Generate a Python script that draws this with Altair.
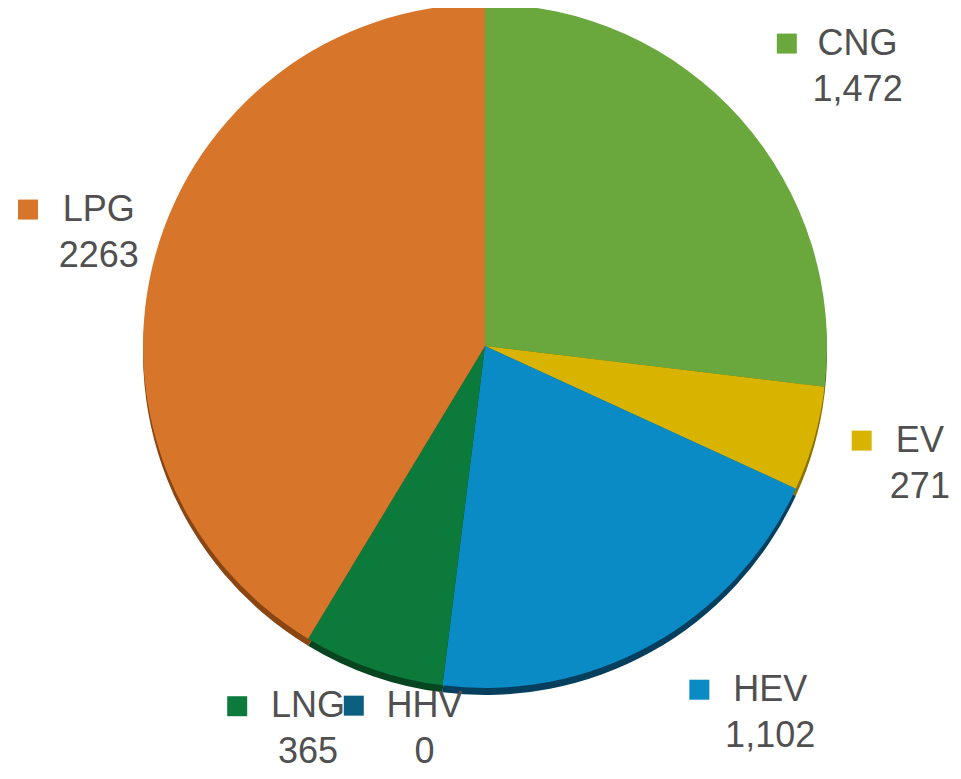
import altair as alt
import pandas as pd

# ---- data ----
categories = ["CNG", "EV", "HEV", "HHV", "LNG", "LPG"]
values = [1472, 271, 1102, 0, 365, 2263]
value_labels = ["1,472", "271", "1,102", "0", "365", "2263"]

# ---- styles ----
face_colors = ["#6aa83e", "#d8b300", "#0a8bc6", "#0d5f80", "#0b7a3a", "#d7762a"]
edge_colors = ["#3f6b22", "#8a7200", "#063f5e", "#073a50", "#064520", "#8a4513"]
TEXT_COLOR = "#505050"
FONT = "Liberation Sans"
FS = 36

df = pd.DataFrame({
    "category": categories,
    "value": values,
    "label": value_labels,
    "idx": list(range(len(categories))),
})

# ---- layout ----
W, H = 945, 763
CX, CY = 477, 338          # pie centre inside the plot area
R = 342                    # pie radius
EDGE = 7                   # thickness of the 3-D rim
R_LABEL = 430              # radial distance of label blocks
# per-label nudges (data labels pushed apart as in the original)
NUDGE = {
    "CNG": (51, 6), "EV": (21, 1), "HEV": (76, -9),
    "HHV": (-7, -44), "LNG": (-36, -23), "LPG": (28, 2),
}


def lookup_expr(i):
    expr = "0"
    for k, v in NUDGE.items():
        expr = f"datum.category == '{k}' ? {v[i]} : ({expr})"
    return expr


base = alt.Chart(df)

color_face = alt.Color("category:N", scale=alt.Scale(domain=categories, range=face_colors), legend=None)
color_edge = alt.Color("category:N", scale=alt.Scale(domain=categories, range=edge_colors), legend=None)

edge = base.mark_arc(radius=R, stroke=None).encode(
    theta=alt.Theta("value:Q", stack=True),
    order=alt.Order("idx:Q"),
    color=color_edge,
    x=alt.value(CX),
    y=alt.value(CY + EDGE),
)

face = base.mark_arc(radius=R, stroke=None).encode(
    theta=alt.Theta("value:Q", stack=True),
    order=alt.Order("idx:Q"),
    color=color_face,
    x=alt.value(CX),
    y=alt.value(CY),
)

lab = base.transform_joinaggregate(
    total="sum(value)"
).transform_window(
    cum="sum(value)", sort=[alt.SortField("idx")], frame=[None, 0]
).transform_calculate(
    ang="2*PI*(datum.cum - datum.value/2)/datum.total"
).transform_calculate(
    ax=f"{CX} + {R_LABEL}*sin(datum.ang) + ({lookup_expr(0)})",
    ay=f"{CY} - {R_LABEL}*cos(datum.ang) + ({lookup_expr(1)})",
    w=f"length(datum.category)*0.7*{FS}",
).transform_calculate(
    name_y="datum.ay - 23",
    val_y="datum.ay + 23",
    sq_x="datum.ax - datum.w/2 - 33",
)

squares = lab.mark_square(size=400, opacity=1, filled=True).encode(
    x=alt.X("sq_x:Q", scale=None),
    y=alt.Y("name_y:Q", scale=None),
    color=alt.Color("category:N", scale=alt.Scale(domain=categories, range=face_colors), legend=None),
)

names = lab.mark_text(font=FONT, fontSize=FS, color=TEXT_COLOR, align="center", baseline="middle").encode(
    x=alt.X("ax:Q", scale=None),
    y=alt.Y("name_y:Q", scale=None),
    text="category:N",
)

vals = lab.mark_text(font=FONT, fontSize=FS, color=TEXT_COLOR, align="center", baseline="middle").encode(
    x=alt.X("ax:Q", scale=None),
    y=alt.Y("val_y:Q", scale=None),
    text="label:N",
)

chart = alt.layer(edge, face, squares, names, vals).resolve_scale(
    color="independent"
).properties(
    width=W, height=H, autosize=alt.AutoSizeParams(type="none"), padding=0
).configure_view(stroke=None)

chart.save("out.html", embed_options={"renderer": "svg", "actions": False})
